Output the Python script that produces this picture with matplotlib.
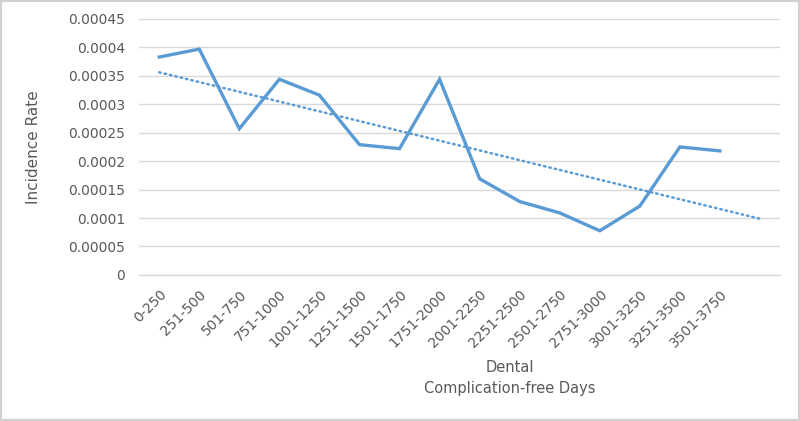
import numpy as np
import matplotlib.pyplot as plt
from matplotlib.patches import Rectangle

# Incidence rate by complication-free day range
categories = ['0-250', '251-500', '501-750', '751-1000', '1001-1250', '1251-1500',
              '1501-1750', '1751-2000', '2001-2250', '2251-2500', '2501-2750',
              '2751-3000', '3001-3250', '3251-3500', '3501-3750']
incidence = [0.000383, 0.000397, 0.000257, 0.000344, 0.000316, 0.000229,
             0.000222, 0.000344, 0.000169, 0.000129, 0.000109, 0.0000776,
             0.000121, 0.000225, 0.000218]
ytick_vals = [0, 0.00005, 0.0001, 0.00015, 0.0002, 0.00025, 0.0003, 0.00035, 0.0004, 0.00045]
ytick_labels = ['0', '0.00005', '0.0001', '0.00015', '0.0002', '0.00025',
                '0.0003', '0.00035', '0.0004', '0.00045']

blue = '#5B9BD5'
grid = '#D9D9D9'
txt = '#595959'

fig = plt.figure(figsize=(8, 4.21), dpi=100)
ax = fig.add_axes([0.174, 0.347, 0.801, 0.608])

x = np.arange(len(incidence))
ax.plot(x, incidence, color=blue, lw=2.4, solid_joinstyle='miter', zorder=3)

# linear trendline, forecast forward one period (as Excel does)
slope, icpt = np.polyfit(x, incidence, 1)
xt = np.arange(len(incidence) + 1)
ax.plot(xt, slope * xt + icpt, color=blue, lw=1.8, linestyle=(0, (0.6, 1.6)),
        dash_capstyle='round', zorder=2)

ax.set_xlim(-0.5, len(incidence) + 0.5)
ax.set_ylim(0, 0.00045)
ax.set_yticks(ytick_vals)
ax.set_yticklabels(ytick_labels)
ax.set_xticks(x)
ax.set_xticklabels(categories, rotation=45, ha='right', va='top', rotation_mode='anchor')
ax.tick_params(length=0, colors=txt, labelsize=10)
ax.tick_params(axis='x', pad=9)
ax.tick_params(axis='y', pad=10)
ax.grid(axis='y', color=grid, lw=1)
ax.set_axisbelow(True)
for s in ax.spines.values():
    s.set_visible(False)
ax.spines['bottom'].set_visible(True)
ax.spines['bottom'].set_color(grid)
ax.spines['bottom'].set_linewidth(1)

ax.set_ylabel('Incidence Rate', color=txt, fontsize=11, labelpad=20)
fig.text(510 / 800, 1 - 368 / 421, 'Dental', color=txt, fontsize=10.5, ha='center', va='center')
fig.text(510 / 800, 1 - 389 / 421, 'Complication-free Days', color=txt, fontsize=10.5,
         ha='center', va='center')

fig.patches.append(Rectangle((0, 0), 1, 1, transform=fig.transFigure, fill=False,
                             edgecolor='#D0D0D0', lw=3))

fig.savefig('out.png', dpi=100)
